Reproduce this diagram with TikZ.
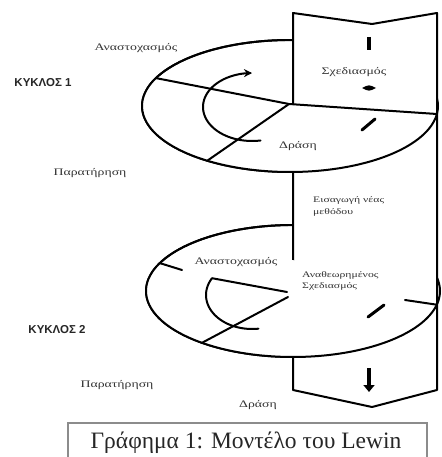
\documentclass[tikz,border=0pt]{standalone}
\usepackage{fontspec}
\setmainfont{Liberation Serif}
\newfontfamily\kyksans{Liberation Sans}
\usetikzlibrary{arrows.meta}
\newcommand\widetxt[1]{\scalebox{1.38}[1]{#1}}
\tikzset{
  ln/.style={line width=2pt, line join=round, line cap=round},
  lbl/.style={font=\fontsize{10}{11}\selectfont, text=black!80, inner sep=0pt},
  slbl/.style={font=\fontsize{8.5}{10}\selectfont, text=black!80, inner sep=0pt, align=left, anchor=west},
  kyk/.style={font=\kyksans\bfseries\fontsize{11.5}{12}\selectfont, text=black!85, inner sep=0pt},
  mark1/.style={line width=4pt},
  mark2/.style={line width=3pt, line cap=round}
}
\begin{document}
\begin{tikzpicture}[x=1pt,y=-1pt]
\clip (0,0) rectangle (441,457);
\fill[white] (0,0) rectangle (441,457);
% ---- back ellipses
\draw[ln] plot[domain=0:360,samples=100,smooth] ({290+148*cos(\x)},{106+66*sin(\x)});
\draw[ln] plot[domain=0:360,samples=100,smooth] ({293+147*cos(\x)},{291+66*sin(\x)});
% ---- band
\draw[ln, fill=white] (293,13) -- (372,24) -- (437,13) -- (437,390) -- (372,407) -- (293,390) -- cycle;
% ---- cycle 1 front
\coordinate (P1) at (155.9,78.1);
\coordinate (P2) at (289,104);
\coordinate (P3) at (436.9,114.0);
\coordinate (Q1) at (207.3,160.7);
\fill[white] (P1) -- (P2) -- (P3) -- plot[domain=7:205,samples=60,smooth] ({290+148*cos(\x)},{106+66*sin(\x)}) -- cycle;
\draw[ln] plot[domain=7:268,samples=80,smooth] ({290+148*cos(\x)},{106+66*sin(\x)});
\draw[ln] (P1) -- (P2) -- (P3);
\draw[ln] (P2) -- (Q1);
\draw[ln, -{Stealth[length=8pt,width=8pt]}] plot[domain=80:270,samples=50,smooth] ({252+49*cos(\x)},{107+34*sin(\x)});
% ---- cycle 2 front
\coordinate (L2a) at (159.8,263.1);
\coordinate (L2b) at (182,270);
\coordinate (R2a) at (405,300);
\coordinate (R2b) at (436.8,304.7);
\coordinate (C2) at (293,260);
\fill[white] (L2b) -- (C2) -- (R2a) -- (R2b) -- plot[domain=12:205,samples=60,smooth] ({293+147*cos(\x)},{291+66*sin(\x)}) -- cycle;
\draw[ln] plot[domain=12:268,samples=80,smooth] ({293+147*cos(\x)},{291+66*sin(\x)});
\draw[ln] (L2a) -- (L2b);
\draw[ln] (R2a) -- (R2b);
\coordinate (D1) at (212,278.2);
\coordinate (D2) at (287,292);
\coordinate (D3) at (288,297);
\coordinate (D4) at (202,342.8);
\draw[ln] (D2) -- (D1) -- plot[domain=209.6:82,samples=40,smooth] ({252+46*cos(\x)},{295+34*sin(\x)});
\draw[ln] (D3) -- (D4);
% ---- right edge of band
\coordinate (BR1) at (437,13);
\coordinate (BR2) at (437,390);
\draw[line width=2.8pt] (BR1) -- (BR2);
% ---- marks
\draw[mark1] (369,37) -- (369,50);
\fill (362,88) .. controls (369,84.5) .. (376,88) .. controls (369,91.5) .. (362,88) -- cycle;
\draw[mark2] (362,130) -- (375,119);
\draw[mark2] (368,317) -- (384,305);
\draw[line width=4.5pt, -{Triangle[length=7pt,width=11pt]}] (369,368) -- (369,392);
% ---- labels
\node[lbl] (an1) at (136,48) {\widetxt{Αναστοχασμός}};
\node[kyk] (k1) at (43,83) {ΚΥΚΛΟΣ 1};
\node[lbl] (sx1) at (354,72) {\widetxt{Σχεδιασμός}};
\node[lbl] (dr1) at (298,146) {\widetxt{Δράση}};
\node[lbl] (pa1) at (90,173) {\widetxt{Παρατήρηση}};
\node[slbl] (eis) at (313,206) {\widetxt{Εισαγωγή νέας}\\[2pt]\widetxt{μεθόδου}};
\node[lbl] (an2) at (236,262) {\widetxt{Αναστοχασμός}};
\node[slbl] (ana) at (302,280.5) {\widetxt{Αναθεωρημένος}\\[1pt]\widetxt{Σχεδιασμός}};
\node[kyk] (k2) at (57,330) {ΚΥΚΛΟΣ 2};
\node[lbl] (pa2) at (117,385) {\widetxt{Παρατήρηση}};
\node[lbl] (dr2) at (258,405) {\widetxt{Δράση}};
% ---- caption
\draw[line width=1.2pt, draw=black!45] (68,465) -- (68,423) -- (427,423) -- (427,465);
\node[font=\fontsize{23.5}{26}\selectfont, text=black!85, inner sep=0pt] (cap) at (246,443) {Γράφημα 1: Μοντέλο του Lewin};
\end{tikzpicture}
\end{document}
